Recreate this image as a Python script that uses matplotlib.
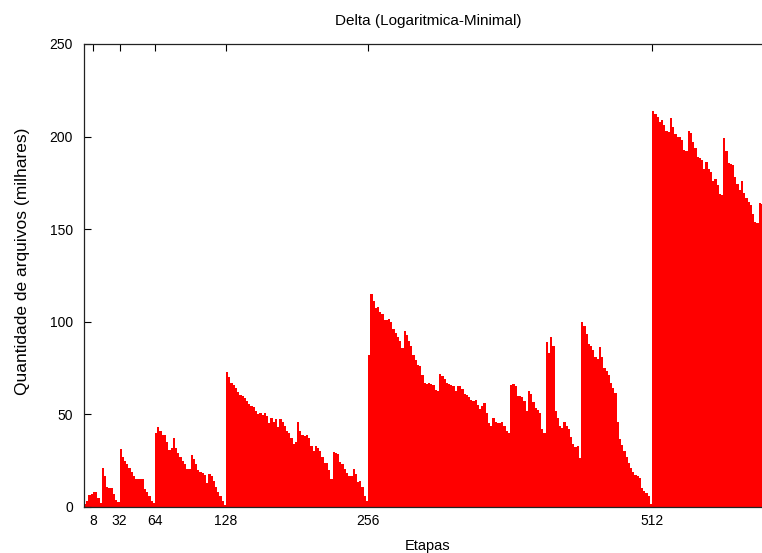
import numpy as np
import matplotlib
matplotlib.use('Agg')
import matplotlib.pyplot as plt

# quantidade de arquivos (milhares) por etapa, lida em blocos de 2 etapas
bloco_0 = [1.5, 3.5, 6.5, 7, 8.3, 8.3, 5, 2,
           21, 17, 11, 10, 10, 7, 4, 2.5,
           31.5, 27, 25, 23, 21, 19, 16.5, 15, 15, 15, 15, 9.5, 8.3, 6, 3, 2,
           40, 43, 41, 39, 39, 35, 31, 32, 37, 32, 29, 27, 25, 23, 20.5, 20.5,
           28, 26, 23, 20, 19, 18.2, 17.5, 13, 18, 17, 14, 11, 8, 6, 3.5, 1]
bloco_128 = [73, 70, 67, 66, 64.5, 62, 60.5, 60,
             59, 57, 55.5, 54.5, 54, 52, 50, 51,
             49.7, 51, 49, 45.5, 48, 46, 47.5, 43,
             47.5, 46, 44, 41, 40, 37, 34, 35,
             46, 41, 39, 38.5, 39, 37, 33, 30,
             33, 32, 30.5, 27, 23.5, 23.5, 20, 15,
             29.7, 29.2, 28.5, 24.5, 23, 20.5, 18.5, 16.5,
             17, 20.5, 18, 13.5, 14, 11, 6, 3]
bloco_256 = [82, 115, 111, 107.5, 108, 105.5, 104, 101,
             101, 101.4, 100, 96, 94, 92, 89.5, 86,
             95, 93, 89.5, 87, 82, 79.5, 76.7, 76,
             71.5, 67, 66.5, 66.8, 66.5, 66, 63, 62.7,
             72, 70.5, 69, 66.8, 66.4, 65.9, 65.6, 62.5,
             65.4, 65.2, 63.8, 61, 60.3, 59.2, 58, 57.2,
             57.8, 55, 53, 54.3, 56, 50.5, 45.5, 44,
             48, 46.1, 45.5, 45.2, 46, 44, 41, 39.8,
             66, 66.5, 65.5, 60, 59.8, 59.6, 57, 52,
             62.5, 61, 56.5, 53.5, 52.5, 51, 42, 40.2,
             89, 83, 92, 87, 52, 48, 43.5, 42.5,
             46, 44, 42, 38, 34, 32.6, 33, 26.3,
             100, 98, 93.5, 88, 86.8, 85, 81, 80,
             86.5, 81, 75, 73.5, 71.5, 67, 64, 61.5,
             46, 36.5, 33.5, 30.5, 27, 24, 21, 19,
             17.5, 16.5, 15.5, 10, 8.6, 7.5, 5.8, 1.6]
bloco_512 = [214, 212, 210.8, 208, 209, 206, 203, 202.5,
             209.9, 205, 201.5, 200, 200, 198, 193, 192,
             203, 201.8, 197, 194, 189, 188.5, 187.5, 182.4,
             186.3, 182.5, 181, 176, 177, 174, 169, 168.5,
             199, 192, 186, 185, 184.5, 178, 174.4, 171.2,
             176, 169.4, 166.7, 164.5, 163, 158, 154, 153.2,
             164, 163.6]

etapas_ticks = [8, 32, 64, 128, 256, 512]
y_ticks = [0, 50, 100, 150, 200, 250]

valores = np.array(bloco_0 + bloco_128 + bloco_256 + bloco_512)
bordas = np.arange(0, 2 * len(valores) + 1, 2)

plt.rcParams['font.family'] = ['Liberation Sans', 'DejaVu Sans']
plt.rcParams['font.size'] = 10

fig = plt.figure(figsize=(7.62, 5.53), dpi=100)
ax = fig.add_axes([84 / 762, 46 / 553, 688 / 762, 463 / 553])

ax.stairs(valores, bordas, fill=True, color='#ff0000', linewidth=0, baseline=0)

ax.set_xlim(0, 620)
ax.set_ylim(0, 250)
ax.set_xticks(etapas_ticks)
ax.set_yticks(y_ticks)
ax.tick_params(axis='y', direction='in', length=5, width=0.8, left=True, right=True, pad=8, labelsize=10)
ax.tick_params(axis='x', direction='in', length=5, width=0.8, top=True, bottom=False, pad=5, labelsize=10)
for s in ax.spines.values():
    s.set_linewidth(0.9)
    s.set_color('#222222')

ax.set_title('Delta (Logaritmica-Minimal)', pad=14, fontsize=11)
ax.set_xlabel('Etapas', fontsize=10.5)
ax.xaxis.set_label_coords(0.5, -0.07)
ax.set_ylabel('Quantidade de arquivos (milhares)', fontsize=12.5)
ax.yaxis.set_label_coords(-0.078, 0.53)

fig.savefig('out.png', dpi=100)
